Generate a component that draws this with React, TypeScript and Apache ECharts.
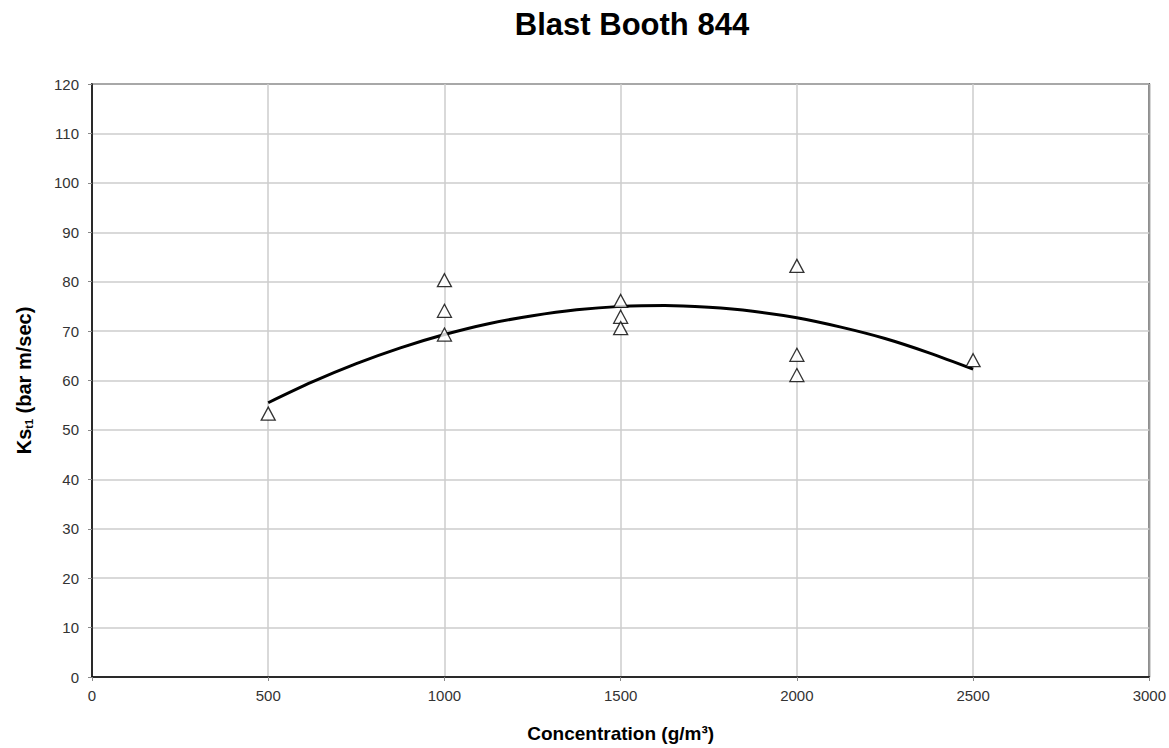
import React, { useEffect, useRef } from "react";
import * as echarts from "echarts";

const concentration = [500, 1000, 1000, 1000, 1500, 1500, 1500, 2000, 2000, 2000, 2500];
const kst = [53.3, 80.3, 74.1, 69.3, 76.1, 72.9, 70.6, 83.2, 65.2, 61.1, 64.1];
const trendX = [500, 625, 750, 875, 1000, 1125, 1250, 1375, 1500, 1625, 1750, 1875, 2000, 2125, 2250, 2375, 2500];
const trendY = [55.5, 59.7, 63.4, 66.6, 69.3, 71.5, 73.1, 74.3, 75.0, 75.2, 74.8, 74.0, 72.7, 70.8, 68.5, 65.6, 62.3];

const FONT = "Arial, 'Liberation Sans', sans-serif";

export default function App() {
  const ref = useRef<HTMLDivElement>(null);
  useEffect(() => {
    const chart = echarts.init(ref.current!, null, { renderer: "svg" });
    chart.setOption({
      animation: false,
      backgroundColor: "#ffffff",
      title: {
        text: "Blast Booth 844",
        left: 627,
        top: 4,
        textAlign: "center",
        textStyle: { fontFamily: FONT, fontSize: 31, fontWeight: "bold", color: "#000" },
      },
      grid: {
        left: 92,
        top: 84,
        right: 17,
        bottom: 71,
        show: true,
        borderColor: "#000",
        borderWidth: 1.5,
        backgroundColor: "transparent",
      },
      xAxis: {
        type: "value",
        min: 0,
        max: 3000,
        interval: 500,
        name: "Concentration (g/m³)",
        nameLocation: "middle",
        nameGap: 47,
        nameTextStyle: { fontFamily: FONT, fontSize: 19, fontWeight: "bold", color: "#000" },
        axisLine: { show: true, lineStyle: { color: "#000", width: 1.5 } },
        axisTick: { show: true, length: 4, lineStyle: { color: "#888" } },
        axisLabel: { fontFamily: FONT, fontSize: 15, color: "#333", margin: 11, formatter: (v: number) => String(v) },
        splitLine: { show: true, lineStyle: { color: "#cccccc", width: 1.5 } },
      },
      yAxis: {
        type: "value",
        min: 0,
        max: 120,
        interval: 10,
        name: "{a|Ks}{s|t1}{a| (bar m/sec)}",
        nameLocation: "middle",
        nameGap: 58,
        nameRotate: 90,
        nameTextStyle: {
          rich: {
            a: { fontFamily: FONT, fontSize: 20, fontWeight: "bold", color: "#000" },
            s: { fontFamily: FONT, fontSize: 11, fontWeight: "bold", color: "#000", verticalAlign: "bottom", padding: [8, 0, 0, 0] },
          },
        },
        axisLine: { show: true, lineStyle: { color: "#000", width: 1.5 } },
        axisTick: { show: true, length: 4, lineStyle: { color: "#888" } },
        axisLabel: { fontFamily: FONT, fontSize: 15, color: "#333", margin: 13, formatter: (v: number) => String(v) },
        splitLine: { show: true, lineStyle: { color: "#cccccc", width: 1.5 } },
      },
      series: [
        {
          type: "line",
          data: trendX.map((x, i) => [x, trendY[i]]),
          smooth: 0.3,
          showSymbol: false,
          lineStyle: { color: "#000", width: 3 },
          z: 2,
        },
        {
          type: "scatter",
          data: concentration.map((x, i) => [x, kst[i]]),
          symbol: "triangle",
          symbolSize: [14, 13],
          itemStyle: { color: "#ffffff", borderColor: "#000", borderWidth: 1.3 },
          z: 3,
        },
      ],
    });
    return () => chart.dispose();
  }, []);
  return <div ref={ref} style={{ position: "fixed", left: 0, top: 0, width: 1169, height: 748 }} />;
}
